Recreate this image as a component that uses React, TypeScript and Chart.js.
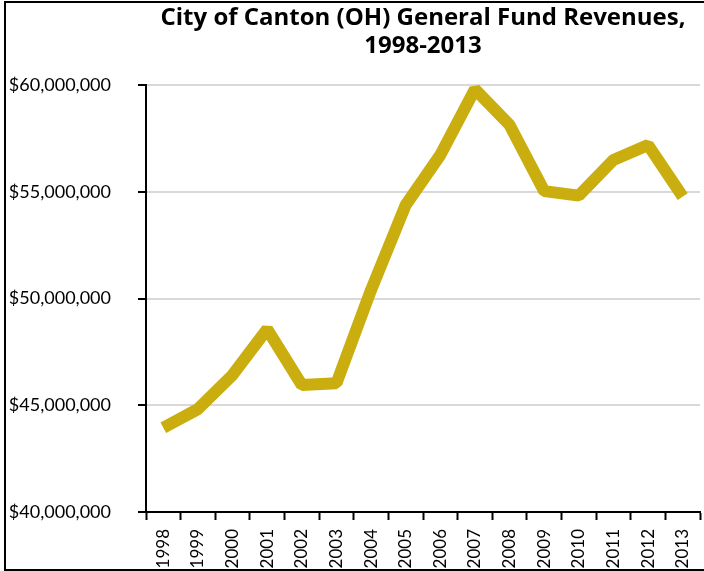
import React, { useEffect, useRef } from "react";
import { Chart, registerables } from "chart.js";

Chart.register(...registerables);

const years = ["1998", "1999", "2000", "2001", "2002", "2003", "2004", "2005", "2006", "2007", "2008", "2009", "2010", "2011", "2012", "2013"];
const revenues = [43950000, 44820000, 46420000, 48560000, 45950000, 46030000, 50400000, 54380000, 56720000, 59800000, 58130000, 55030000, 54820000, 56490000, 57190000, 54770000];
const titleLines = ["City of Canton (OH) General Fund Revenues,", "1998-2013"];
const yMin = 40000000;
const yMax = 60000000;
const yStep = 5000000;

export default function App() {
  const ref = useRef<HTMLCanvasElement>(null);
  useEffect(() => {
    if (!ref.current) return;
    const chart = new Chart(ref.current, {
      type: "line",
      data: {
        labels: years,
        datasets: [
          {
            data: revenues,
            borderColor: "#CAAE0F",
            backgroundColor: "#CAAE0F",
            borderWidth: 12,
            pointRadius: 0,
            tension: 0,
            borderJoinStyle: "bevel",
            borderCapStyle: "butt",
            clip: false,
          } as any,
        ],
      },
      options: {
        responsive: false,
        animation: false,
        devicePixelRatio: 1,
        layout: { padding: { left: 0, right: 4, top: 0, bottom: 0 } },
        plugins: {
          legend: { display: false },
          tooltip: { enabled: false },
          title: {
            display: true,
            text: titleLines,
            fullSize: false,
            color: "#000",
            font: { family: "Open Sans", size: 24, weight: "bold", lineHeight: 28 / 24 },
            padding: { top: 4, bottom: 25 },
          } as any,
        },
        scales: {
          x: {
            offset: true,
            afterFit: (s: any) => {
              s.height = 59;
              s.paddingLeft = 0;
              s.paddingRight = 0;
            },
            grid: {
              offset: true,
              drawOnChartArea: false,
              drawTicks: true,
              tickLength: 8,
              tickColor: "#000",
              tickWidth: 2,
            },
            border: { color: "#000", width: 2 },
            ticks: {
              minRotation: 90,
              maxRotation: 90,
              padding: 9,
              color: "#000",
              font: { family: "Lato", size: 17 },
              autoSkip: false,
            },
          },
          y: {
            min: yMin,
            max: yMax,
            afterFit: (s: any) => {
              s.width = 146;
              s.paddingTop = 0;
              s.paddingBottom = 0;
            },
            grid: {
              color: "#D9D9D9",
              lineWidth: 2,
              drawTicks: true,
              tickLength: 8,
              tickColor: "#000",
              tickWidth: 2,
            },
            border: { color: "#000", width: 2 },
            ticks: {
              stepSize: yStep,
              padding: 27,
              color: "#000",
              font: { family: "Lato", size: 18 },
              callback: (v: any) => "$" + Number(v).toLocaleString("en-US"),
            },
          },
        },
      },
    });
    return () => chart.destroy();
  }, []);
  return (
    <div style={{ position: "fixed", left: 0, top: 0, width: 704, height: 571, background: "#fff", overflow: "hidden" }}>
      <canvas ref={ref} width={704} height={571} style={{ position: "absolute", left: 0, top: 0, width: 704, height: 571 }} />
      <div
        style={{
          position: "absolute",
          left: 4,
          top: 1,
          width: 800,
          height: 566,
          border: "2px solid #000",
          pointerEvents: "none",
        }}
      />
    </div>
  );
}
